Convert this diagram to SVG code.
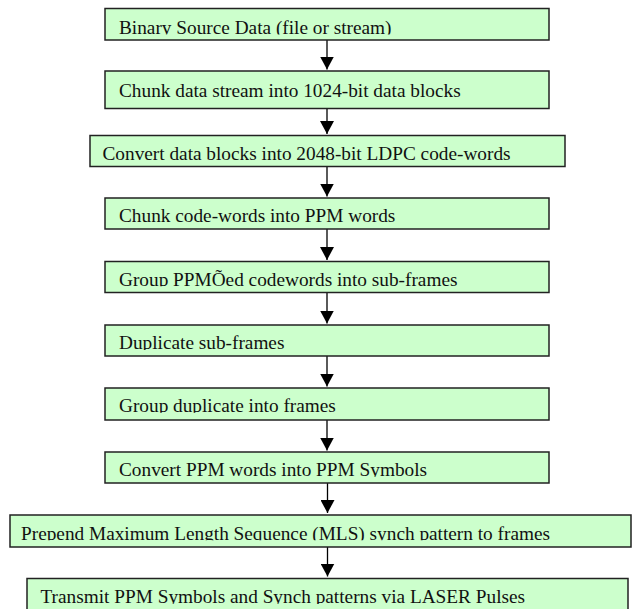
<svg xmlns="http://www.w3.org/2000/svg" width="632" height="609" viewBox="0 0 632 609">
<style>
.box{fill:#ccffcc;stroke:#222;stroke-width:1.5}
.lbl{font-family:"Liberation Serif","Times New Roman",serif;font-size:19.3px;fill:#111}
.conn{stroke:#000;stroke-width:1.3;fill:none}
</style>
<defs>
<marker id="ah" markerUnits="userSpaceOnUse" markerWidth="13" markerHeight="14" viewBox="0 0 13 14" refX="13" refY="7" orient="auto">
<path d="M0,0 L13,7 L0,14 z" fill="#000"/>
</marker>
<clipPath id="c1"><rect x="0" y="8" width="632" height="26.5"/></clipPath>
<clipPath id="c2"><rect x="0" y="71" width="632" height="26.5"/></clipPath>
<clipPath id="c3"><rect x="0" y="135" width="632" height="26"/></clipPath>
<clipPath id="c4"><rect x="0" y="198" width="632" height="24.8"/></clipPath>
<clipPath id="c5"><rect x="0" y="261" width="632" height="25.3"/></clipPath>
<clipPath id="c6"><rect x="0" y="325" width="632" height="25"/></clipPath>
<clipPath id="c7"><rect x="0" y="388" width="632" height="24.8"/></clipPath>
<clipPath id="c8"><rect x="0" y="452" width="632" height="25"/></clipPath>
<clipPath id="c9"><rect x="0" y="514" width="632" height="26.3"/></clipPath>
<clipPath id="c10"><rect x="0" y="578" width="632" height="26"/></clipPath>
</defs>
<g id="connectors">
<line class="conn" x1="327" y1="40" x2="327" y2="69.5" marker-end="url(#ah)"/>
<line class="conn" x1="327" y1="108.5" x2="327" y2="134" marker-end="url(#ah)"/>
<line class="conn" x1="327" y1="166.5" x2="327" y2="196.5" marker-end="url(#ah)"/>
<line class="conn" x1="327" y1="229" x2="327" y2="260" marker-end="url(#ah)"/>
<line class="conn" x1="327" y1="292.5" x2="327" y2="323.5" marker-end="url(#ah)"/>
<line class="conn" x1="327" y1="356" x2="327" y2="386.5" marker-end="url(#ah)"/>
<line class="conn" x1="327" y1="420" x2="327" y2="450.5" marker-end="url(#ah)"/>
<line class="conn" x1="327.5" y1="483" x2="327.5" y2="513" marker-end="url(#ah)"/>
<line class="conn" x1="327.5" y1="547" x2="327.5" y2="576.5" marker-end="url(#ah)"/>
</g>
<g id="n1"><rect class="box" x="105" y="8.5" width="444" height="31.5"/><text class="lbl" x="119" y="33.5" clip-path="url(#c1)">Binary Source Data (file or stream)</text></g>
<g id="n2"><rect class="box" x="105" y="71" width="444" height="37.5"/><text class="lbl" x="119" y="96.5" clip-path="url(#c2)">Chunk data stream into 1024-bit data blocks</text></g>
<g id="n3"><rect class="box" x="90" y="135.5" width="475" height="31"/><text class="lbl" x="102.5" y="160" clip-path="url(#c3)">Convert data blocks into 2048-bit LDPC code-words</text></g>
<g id="n4"><rect class="box" x="105" y="198" width="444" height="31"/><text class="lbl" x="119" y="222" clip-path="url(#c4)">Chunk code-words into PPM words</text></g>
<g id="n5"><rect class="box" x="105" y="261.5" width="444" height="31"/><text class="lbl" x="119" y="285.5" clip-path="url(#c5)">Group PPMÕed codewords into sub-frames</text></g>
<g id="n6"><rect class="box" x="105" y="325" width="444" height="31"/><text class="lbl" x="119" y="349" clip-path="url(#c6)">Duplicate sub-frames</text></g>
<g id="n7"><rect class="box" x="105" y="388" width="444" height="32"/><text class="lbl" x="119" y="412" clip-path="url(#c7)">Group duplicate into frames</text></g>
<g id="n8"><rect class="box" x="105" y="452" width="444" height="31"/><text class="lbl" x="119" y="476" clip-path="url(#c8)">Convert PPM words into PPM Symbols</text></g>
<g id="n9"><rect class="box" x="10" y="515" width="621" height="32"/><text class="lbl" x="21" y="539.5" clip-path="url(#c9)">Prepend Maximum Length Sequence (MLS) synch pattern to frames</text></g>
<g id="n10"><rect class="box" x="27" y="578.5" width="601" height="36"/><text class="lbl" x="40.5" y="603" clip-path="url(#c10)">Transmit PPM Symbols and Synch patterns via LASER Pulses</text></g>
</svg>
